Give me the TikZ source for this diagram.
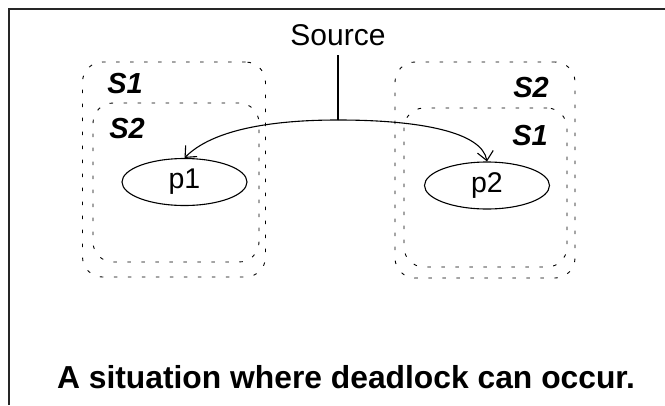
\documentclass[tikz,border=0pt]{standalone}
\usepackage{fontspec}
\setmainfont{Liberation Sans}
\usetikzlibrary{shapes.geometric,arrows.meta}
\tikzset{
  region/.style={draw=black, line width=0.9pt, dash pattern=on 3.5pt off 10.5pt,
    rounded corners=20pt, rectangle, inner sep=0pt},
  proc/.style={draw, ellipse, line width=1.1pt, minimum width=125pt, minimum height=47pt,
    inner sep=0pt, font=\fontsize{28.5}{34}\selectfont},
  setlabel/.style={font=\fontsize{29}{34}\selectfont\bfseries\itshape, inner sep=0pt},
  msg/.style={line width=1.1pt, -{Straight Barb[length=9pt,width=16pt,line width=1.1pt]}},
}
\begin{document}
\begin{tikzpicture}[x=1pt,y=-1pt]
\useasboundingbox (0,0) rectangle (665,405);
% frame
\draw[line width=1.4pt, black!85] (9,405) -- (9,9) -- (665,9);

% left group: S1 encloses S2
\node[region, minimum width=183pt, minimum height=215pt] (L1) at (174,169.5) {};
\node[region, minimum width=166pt, minimum height=159pt] (L2) at (176,182.5) {};
\node[setlabel] (lS1) at (125,84) {S1};
\node[setlabel] (lS2) at (127,129) {S2};
\node[proc] (p1) at (184.5,182) {p1};

% right group: S2 encloses S1
\node[region, minimum width=180pt, minimum height=216pt] (R2) at (485,170) {};
\node[region, minimum width=163pt, minimum height=159pt] (R1) at (485.5,187.5) {};
\node[setlabel] (rS2) at (531,88) {S2};
\node[setlabel] (rS1) at (530,136) {S1};
\node[proc] (p2) at (487,185.5) {p2};

% source and its broadcast
\node[font=\fontsize{30}{36}\selectfont, inner sep=0pt] (src) at (338,35) {Source};
\coordinate (J) at (338,120);
\draw[line width=1.1pt] (338,55) -- (J);
\draw[msg] (J) .. controls (270,120) and (212,130) .. (p1.north);
\draw[msg] (J) .. controls (420,120) and (482,132) .. (p2.north);

% caption
\node[font=\fontsize{31.8}{38}\selectfont\bfseries, inner sep=0pt, anchor=base] (cap) at (346,388) {A situation where deadlock can occur.};
\end{tikzpicture}
\end{document}
